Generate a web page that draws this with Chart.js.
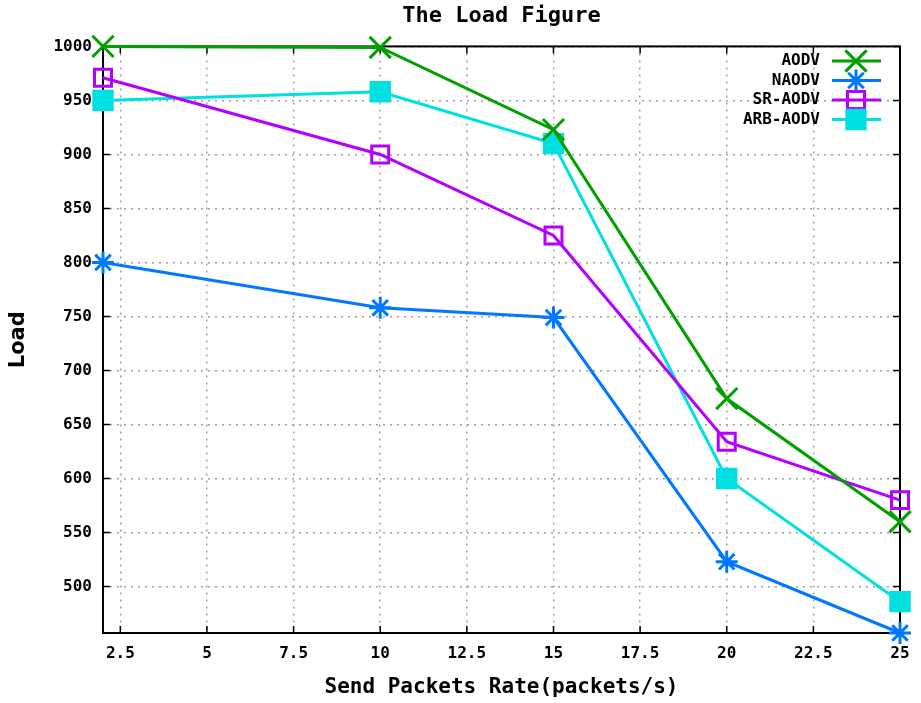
<!DOCTYPE html>
<html>
<head>
<meta charset="utf-8">
<script src="https://cdn.jsdelivr.net/npm/chart.js@4/dist/chart.umd.min.js"></script>
<style>
  body { margin: 0; background: #fff; }
  #wrap { width: 921px; height: 703px; }
</style>
</head>
<body>
<div id="wrap"><canvas id="loadChart" width="921" height="703"></canvas></div>
<script>
const rates = [2, 10, 15, 20, 25];
const aodv = [1000, 999, 923, 674, 560];
const naodv = [800, 758, 749, 523, 457];
const srAodv = [971, 900, 825, 634, 580];
const arbAodv = [950, 958, 910, 600, 486];
const yTicks = [500, 550, 600, 650, 700, 750, 800, 850, 900, 950, 1000];
const xTicks = [2.5, 5, 7.5, 10, 12.5, 15, 17.5, 20, 22.5, 25];

const mono = 'DejaVu Sans Mono';

function pts(vals) {
  return vals.map((v, i) => ({ x: rates[i], y: v }));
}

// gnuplot style frame with inward ticks
const framePlugin = {
  id: 'frame',
  beforeDatasetsDraw(chart) {
    const { ctx, chartArea: a, scales } = chart;
    ctx.save();
    ctx.strokeStyle = '#000';
    ctx.lineWidth = 2;
    ctx.strokeRect(a.left, a.top, a.right - a.left, a.bottom - a.top);
    ctx.lineWidth = 1.5;
    ctx.beginPath();
    xTicks.forEach(t => {
      const x = scales.x.getPixelForValue(t);
      ctx.moveTo(x, a.bottom); ctx.lineTo(x, a.bottom - 7);
      ctx.moveTo(x, a.top); ctx.lineTo(x, a.top + 7);
    });
    yTicks.forEach(t => {
      const y = scales.y.getPixelForValue(t);
      ctx.moveTo(a.left, y); ctx.lineTo(a.left + 7, y);
      ctx.moveTo(a.right, y); ctx.lineTo(a.right - 7, y);
    });
    ctx.stroke();
    ctx.restore();
  }
};

// key drawn inside the plot, text on the left, sample on the right
const keyPlugin = {
  id: 'key',
  afterDatasetsDraw(chart) {
    const { ctx } = chart;
    ctx.save();
    chart.data.datasets.forEach((ds, i) => {
      const y = 61 + i * 19.5;
      ctx.font = 'bold 16px ' + mono;
      ctx.fillStyle = '#000';
      ctx.textAlign = 'right';
      ctx.textBaseline = 'middle';
      ctx.fillText(ds.label, 820, y);
      ctx.strokeStyle = ds.borderColor;
      ctx.lineWidth = ds.borderWidth;
      ctx.beginPath();
      ctx.moveTo(832, y); ctx.lineTo(881, y);
      ctx.stroke();
      ctx.lineWidth = ds.pointBorderWidth;
      ctx.fillStyle = ds.pointBackgroundColor;
      Chart.helpers.drawPoint(ctx, {
        pointStyle: ds.pointStyle, radius: ds.pointRadius, borderWidth: ds.pointBorderWidth, rotation: 0
      }, 856, y);
    });
    ctx.restore();
  }
};

function series(label, vals, color, style, fill, radius) {
  return {
    label: label,
    data: pts(vals),
    borderColor: color,
    backgroundColor: color,
    borderWidth: 3,
    pointStyle: style,
    pointRadius: radius,
    pointHoverRadius: radius,
    pointBorderWidth: 3,
    pointBorderColor: color,
    pointBackgroundColor: fill,
    tension: 0,
    clip: false
  };
}

new Chart(document.getElementById('loadChart'), {
  type: 'line',
  data: {
    datasets: [
      series('AODV', aodv, 'rgb(0,160,0)', 'crossRot', 'rgb(0,160,0)', 15),
      series('NAODV', naodv, 'rgb(0,120,255)', 'star', 'rgb(0,120,255)', 11),
      series('SR-AODV', srAodv, 'rgb(180,0,255)', 'rect', 'rgba(0,0,0,0)', 12),
      series('ARB-AODV', arbAodv, 'rgb(0,224,224)', 'rect', 'rgb(0,224,224)', 13)
    ]
  },
  plugins: [framePlugin, keyPlugin],
  options: {
    responsive: false,
    animation: false,
    layout: { padding: { left: 0, right: 21, top: 0, bottom: 0 } },
    plugins: {
      legend: { display: false },
      tooltip: { enabled: false },
      title: {
        display: true,
        fullSize: false,
        text: 'The Load Figure',
        color: '#000',
        font: { family: mono, size: 22, weight: 'bold' },
        padding: { top: 3, bottom: 17 }
      }
    },
    scales: {
      x: {
        type: 'linear',
        min: 2,
        max: 25,
        afterBuildTicks: s => { s.ticks = xTicks.map(v => ({ value: v })); },
        afterFit: s => { s.height = 70; },
        grid: { color: '#a0a0a0', lineWidth: 1.5, drawTicks: false },
        border: { display: false, dash: [2, 5] },
        ticks: {
          color: '#000',
          padding: 11,
          maxRotation: 0,
          font: { family: mono, size: 16, weight: 'bold' }
        },
        title: {
          display: true,
          text: 'Send Packets Rate(packets/s)',
          color: '#000',
          font: { family: mono, size: 21, weight: 'bold' },
          padding: { top: 0, bottom: 3 }
        }
      },
      y: {
        min: 457,
        max: 1000,
        afterBuildTicks: s => { s.ticks = yTicks.map(v => ({ value: v })); },
        afterFit: s => { s.width = 103; },
        grid: { color: '#a0a0a0', lineWidth: 1.5, drawTicks: false },
        border: { display: false, dash: [2, 5] },
        ticks: {
          color: '#000',
          padding: 11,
          callback: v => String(v),
          font: { family: mono, size: 16, weight: 'bold' }
        },
        title: {
          display: true,
          text: 'Load',
          color: '#000',
          font: { family: 'DejaVu Sans', size: 21, weight: 'bold' },
          padding: { top: 6, bottom: 0 }
        }
      }
    }
  }
});
</script>
</body>
</html>
